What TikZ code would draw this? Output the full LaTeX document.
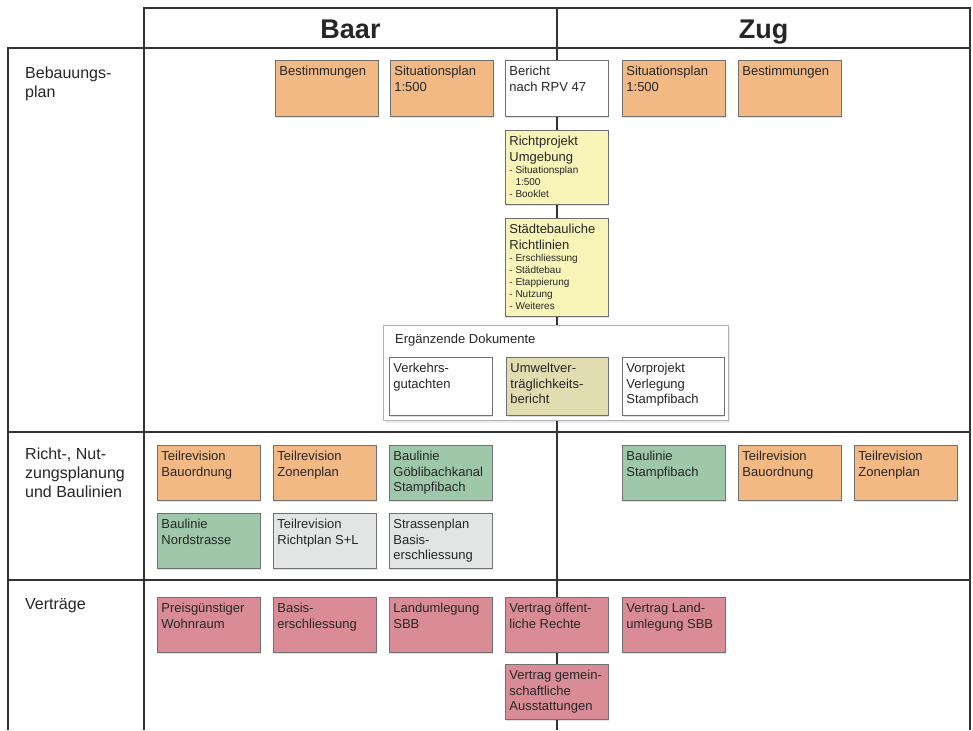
\documentclass[tikz,border=0pt]{standalone}
\usepackage{fontspec}
\setmainfont{Liberation Sans}
\usetikzlibrary{shadows}
\definecolor{gridc}{HTML}{333333}
\definecolor{boxline}{HTML}{707070}
\definecolor{orangefill}{HTML}{F3B984}
\definecolor{yellowfill}{HTML}{F8F4B8}
\definecolor{tanfill}{HTML}{E2DCB1}
\definecolor{greenfill}{HTML}{9FC8AA}
\definecolor{greyfill}{HTML}{E3E4E4}
\definecolor{redfill}{HTML}{D98C96}
\newcommand\bodyf{\fontsize{13}{15.5}\selectfont}
\newcommand\smallf{\fontsize{10}{12}\selectfont}
\newcommand\bx[7]{\node[#1] (#2) at (#3,#4) {\parbox[t][\dimexpr#6pt-12pt\relax][t]{\dimexpr#5pt-8pt\relax}{\raggedright #7}};}
\begin{document}
\begin{tikzpicture}[x=1pt,y=-1pt,
  grid/.style={draw=gridc, line width=2.5pt, line join=miter},
  box/.style={draw=boxline, line width=0.8pt, inner xsep=4pt, inner ysep=6pt, anchor=north west, font=\bodyf, text=black!85,
     drop shadow={shadow xshift=1pt, shadow yshift=-2pt, fill=black, opacity=0.12}},
  orangebox/.style={box, fill=orangefill},
  yellowbox/.style={box, fill=yellowfill},
  tanbox/.style={box, fill=tanfill},
  greenbox/.style={box, fill=greenfill},
  greybox/.style={box, fill=greyfill},
  redbox/.style={box, fill=redfill},
  whitebox/.style={box, fill=white},
  head/.style={font=\fontsize{27}{30}\selectfont\bfseries, text=black!85, anchor=base},
  rowlab/.style={font=\fontsize{16}{19}\selectfont, anchor=north west, inner sep=0pt, align=left, text=black!85}
]
\useasboundingbox (0,0) rectangle (973,730);
\fill[white] (0,0) rectangle (973,730);
% table grid
\draw[grid] (144,730) -- (144,8) -- (970,8) -- (970,730);
\draw[grid] (557,8) -- (557,730);
\draw[grid] (8,730) -- (8,48) -- (970,48);
\draw[grid] (8,432) -- (970,432);
\draw[grid] (8,580) -- (970,580);
% headers
\node[head] (baar) at (350.5,39) {Baar};
\node[head] (zug) at (763.5,39) {Zug};
% row labels
\node[rowlab] (l1) at (25,67) {Bebauungs-\\plan};
\node[rowlab] (l2) at (25,448) {Richt-, Nut-\\zungsplanung\\und Baulinien};
\node[rowlab] (l3) at (25,598) {Verträge};
% Bebauungsplan
\bx{orangebox}{a1}{275}{60}{103}{56}{Bestimmungen}
\bx{orangebox}{a2}{390}{60}{103}{56}{Situationsplan\\1:500}
\bx{whitebox}{ber}{505}{60}{103}{56}{Bericht\\nach RPV 47}
\bx{orangebox}{z1}{622}{60}{103}{56}{Situationsplan\\1:500}
\bx{orangebox}{z2}{738}{60}{103}{56}{Bestimmungen}
\bx{yellowbox}{rp}{505}{130}{103}{74}{Richtprojekt\\Umgebung\par\smallf - Situationsplan\\\phantom{- }1:500\\- Booklet}
\bx{yellowbox}{st}{505}{218}{103}{98}{Städtebauliche\\Richtlinien\par\smallf - Erschliessung\\- Städtebau\\- Etappierung\\- Nutzung\\- Weiteres}
% Ergaenzende Dokumente
\node[draw=black!30, line width=1pt, fill=white, anchor=north west, minimum width=345pt, minimum height=95pt, inner sep=0pt,
  drop shadow={shadow xshift=1pt, shadow yshift=-2pt, fill=black, opacity=0.08}] (erg) at (383,325) {};
\node[anchor=north west, font=\bodyf, inner sep=0pt, text=black!85] (ergt) at (395,334) {Ergänzende Dokumente};
\bx{whitebox}{vg}{389}{357}{103}{58}{Verkehrs-\\gutachten}
\bx{tanbox}{uv}{506}{357}{102}{58}{Umweltver-\\träglichkeits-\\bericht}
\bx{whitebox}{vp}{622}{357}{102}{58}{Vorprojekt\\Verlegung\\Stampfibach}
% Richt-, Nutzungsplanung und Baulinien
\bx{orangebox}{m1}{157}{445}{103}{55}{Teilrevision\\Bauordnung}
\bx{orangebox}{m2}{273}{445}{103}{55}{Teilrevision\\Zonenplan}
\bx{greenbox}{m3}{389}{445}{103}{55}{Baulinie\\Göblibachkanal\\Stampfibach}
\bx{greenbox}{m4}{157}{513}{103}{55}{Baulinie\\Nordstrasse}
\bx{greybox}{m5}{273}{513}{103}{55}{Teilrevision\\Richtplan S+L}
\bx{greybox}{m6}{389}{513}{103}{55}{Strassenplan\\Basis-\\erschliessung}
\bx{greenbox}{n1}{622}{445}{103}{55}{Baulinie\\Stampfibach}
\bx{orangebox}{n2}{738}{445}{103}{55}{Teilrevision\\Bauordnung}
\bx{orangebox}{n3}{854}{445}{103}{55}{Teilrevision\\Zonenplan}
% Vertraege
\bx{redbox}{v1}{157}{597}{103}{55}{Preisgünstiger\\Wohnraum}
\bx{redbox}{v2}{273}{597}{103}{55}{Basis-\\erschliessung}
\bx{redbox}{v3}{389}{597}{103}{55}{Landumlegung\\SBB}
\bx{redbox}{v4}{505}{597}{103}{55}{Vertrag öffent-\\liche Rechte}
\bx{redbox}{v5}{622}{597}{103}{55}{Vertrag Land-\\umlegung SBB}
\bx{redbox}{v6}{505}{664}{103}{55}{Vertrag gemein-\\schaftliche\\Ausstattungen}
\end{tikzpicture}
\end{document}
